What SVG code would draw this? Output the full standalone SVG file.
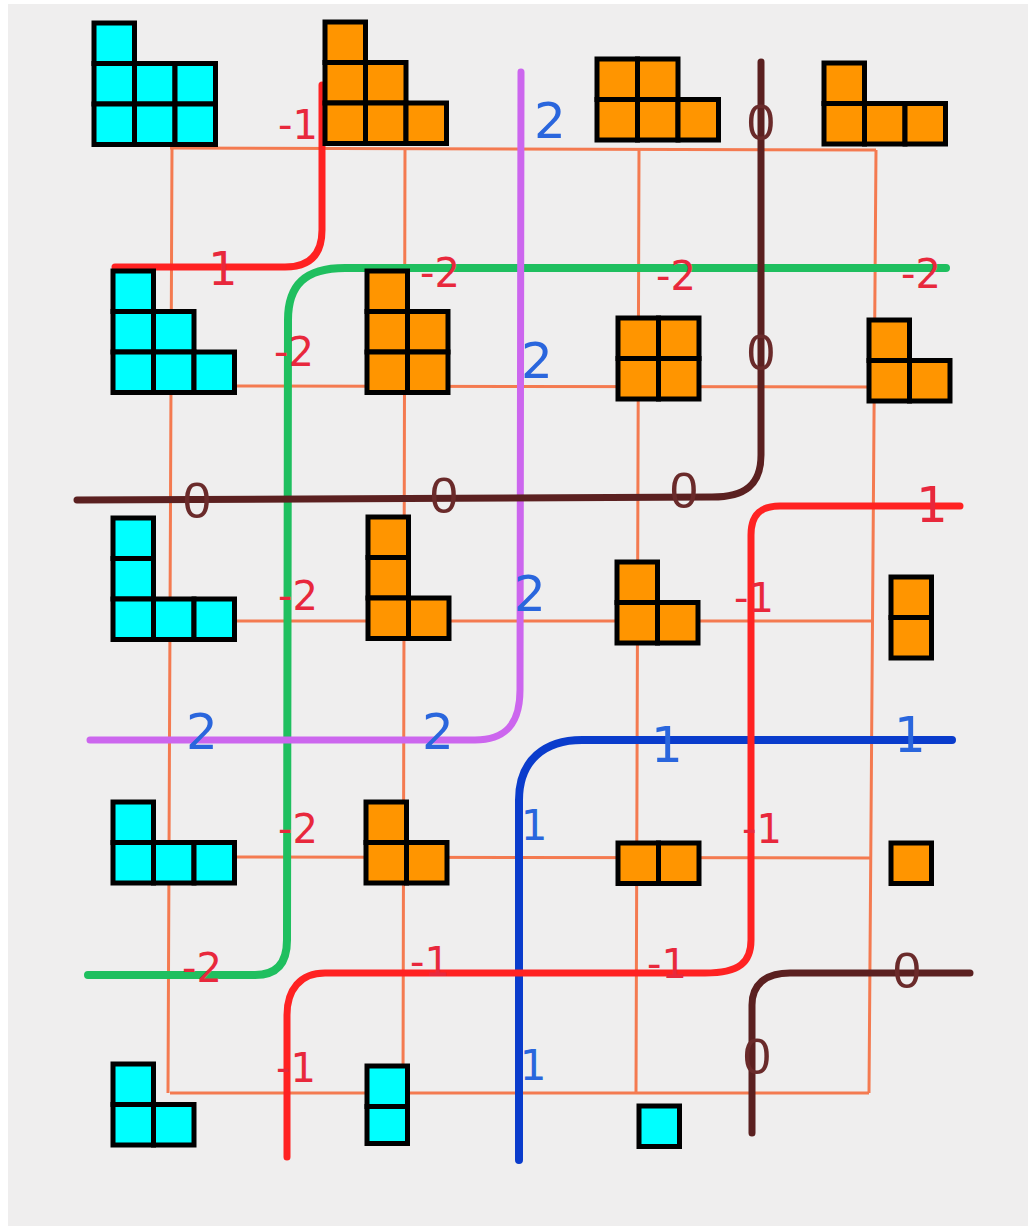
<svg xmlns="http://www.w3.org/2000/svg" width="1033" height="1231" viewBox="0 0 1033 1231">
<defs>
<style>
.c{fill:#00ffff;stroke:#000;stroke-width:5}
.o{fill:#ff9500;stroke:#000;stroke-width:5}
.g{fill:none;stroke:#f47a50;stroke-width:3}
.ln{fill:none;stroke-linecap:round;stroke-linejoin:round}
.r{stroke:#ff2222;stroke-width:7}
.gr{stroke:#1fbf5f;stroke-width:8}
.pu{stroke:#cc66ee;stroke-width:7}
.bl{stroke:#0a3ccc;stroke-width:8}
.br{stroke:#5b2020;stroke-width:7}
.tr{font-family:"DejaVu Sans",sans-serif;fill:#e8283c;font-size:40px;text-anchor:middle}
.tb{font-family:"DejaVu Sans",sans-serif;fill:#2a66dd;font-size:50px;text-anchor:middle}
.t0{font-family:"Liberation Sans",sans-serif;fill:#6a2a2a;font-size:50px;text-anchor:middle}
</style>
</defs>
<rect x="0" y="0" width="1033" height="1231" fill="#ffffff"/>
<rect x="8" y="4" width="1020" height="1222" fill="#efeeee"/>
<g id="grid">
<path class="g" d="M170,148 L876,150 M170,386 L874,387 M170,621 L872,621 M170,857 L870,858 M170,1093 L869,1093"/>
<path class="g" d="M172,148 L168,1093 M405,148 L403,1093 M639,150 L636,1093 M876,150 L869,1093"/>
</g>
<g id="connectors">
<path class="ln r" d="M322,85 L322,230 Q322,267 285,267 L115,267"/>
<path class="ln gr" d="M946,268 L345,268 C305,268 288,285 288,320 L287,940 C287,965 275,975 255,975 L88,975"/>
<path class="ln pu" d="M521,72 L520,690 C520,725 505,740 475,740 L90,740"/>
<path class="ln bl" d="M952,740 L582,740 C545,740 519,760 519,800 L519,1160"/>
<path class="ln r" d="M960,506 L780,506 C760,506 751,515 751,535 L751,940 C751,962 740,973 705,973 L325,973 C300,973 287,990 287,1015 L287,1157"/>
<path class="ln br" d="M761,62 L761,455 C761,485 745,497 712,497 L77,500"/>
<path class="ln br" d="M970,973 L790,973 C765,973 752,985 752,1005 L752,1133"/>
</g>
<g id="shape1" transform="translate(94,23)">
<rect class="c" x="0" y="0" width="40.5" height="40.5"/>
<rect class="c" x="0" y="40.5" width="40.5" height="40.5"/><rect class="c" x="40.5" y="40.5" width="40.5" height="40.5"/><rect class="c" x="81" y="40.5" width="40.5" height="40.5"/>
<rect class="c" x="0" y="81" width="40.5" height="40.5"/><rect class="c" x="40.5" y="81" width="40.5" height="40.5"/><rect class="c" x="81" y="81" width="40.5" height="40.5"/>
</g>
<g id="shape2" transform="translate(325,22)">
<rect class="o" x="0" y="0" width="40.5" height="40.5"/>
<rect class="o" x="0" y="40.5" width="40.5" height="40.5"/><rect class="o" x="40.5" y="40.5" width="40.5" height="40.5"/>
<rect class="o" x="0" y="81" width="40.5" height="40.5"/><rect class="o" x="40.5" y="81" width="40.5" height="40.5"/><rect class="o" x="81" y="81" width="40.5" height="40.5"/>
</g>
<g id="shape3" transform="translate(597,59)">
<rect class="o" x="0" y="0" width="40.5" height="40.5"/><rect class="o" x="40.5" y="0" width="40.5" height="40.5"/>
<rect class="o" x="0" y="40.5" width="40.5" height="40.5"/><rect class="o" x="40.5" y="40.5" width="40.5" height="40.5"/><rect class="o" x="81" y="40.5" width="40.5" height="40.5"/>
</g>
<g id="shape4" transform="translate(824,63)">
<rect class="o" x="0" y="0" width="40.5" height="40.5"/>
<rect class="o" x="0" y="40.5" width="40.5" height="40.5"/><rect class="o" x="40.5" y="40.5" width="40.5" height="40.5"/><rect class="o" x="81" y="40.5" width="40.5" height="40.5"/>
</g>
<g id="shape5" transform="translate(113,271)">
<rect class="c" x="0" y="0" width="40.5" height="40.5"/>
<rect class="c" x="0" y="40.5" width="40.5" height="40.5"/><rect class="c" x="40.5" y="40.5" width="40.5" height="40.5"/>
<rect class="c" x="0" y="81" width="40.5" height="40.5"/><rect class="c" x="40.5" y="81" width="40.5" height="40.5"/><rect class="c" x="81" y="81" width="40.5" height="40.5"/>
</g>
<g id="shape6" transform="translate(367,271)">
<rect class="o" x="0" y="0" width="40.5" height="40.5"/>
<rect class="o" x="0" y="40.5" width="40.5" height="40.5"/><rect class="o" x="40.5" y="40.5" width="40.5" height="40.5"/>
<rect class="o" x="0" y="81" width="40.5" height="40.5"/><rect class="o" x="40.5" y="81" width="40.5" height="40.5"/>
</g>
<g id="shape7" transform="translate(618,318)">
<rect class="o" x="0" y="0" width="40.5" height="40.5"/><rect class="o" x="40.5" y="0" width="40.5" height="40.5"/>
<rect class="o" x="0" y="40.5" width="40.5" height="40.5"/><rect class="o" x="40.5" y="40.5" width="40.5" height="40.5"/>
</g>
<g id="shape8" transform="translate(869,320)">
<rect class="o" x="0" y="0" width="40.5" height="40.5"/>
<rect class="o" x="0" y="40.5" width="40.5" height="40.5"/><rect class="o" x="40.5" y="40.5" width="40.5" height="40.5"/>
</g>
<g id="shape9" transform="translate(113,518)">
<rect class="c" x="0" y="0" width="40.5" height="40.5"/>
<rect class="c" x="0" y="40.5" width="40.5" height="40.5"/>
<rect class="c" x="0" y="81" width="40.5" height="40.5"/><rect class="c" x="40.5" y="81" width="40.5" height="40.5"/><rect class="c" x="81" y="81" width="40.5" height="40.5"/>
</g>
<g id="shape10" transform="translate(368,517)">
<rect class="o" x="0" y="0" width="40.5" height="40.5"/>
<rect class="o" x="0" y="40.5" width="40.5" height="40.5"/>
<rect class="o" x="0" y="81" width="40.5" height="40.5"/><rect class="o" x="40.5" y="81" width="40.5" height="40.5"/>
</g>
<g id="shape11" transform="translate(617,562)">
<rect class="o" x="0" y="0" width="40.5" height="40.5"/>
<rect class="o" x="0" y="40.5" width="40.5" height="40.5"/><rect class="o" x="40.5" y="40.5" width="40.5" height="40.5"/>
</g>
<g id="shape12" transform="translate(891,577)">
<rect class="o" x="0" y="0" width="40.5" height="40.5"/>
<rect class="o" x="0" y="40.5" width="40.5" height="40.5"/>
</g>
<g id="shape13" transform="translate(113,802)">
<rect class="c" x="0" y="0" width="40.5" height="40.5"/>
<rect class="c" x="0" y="40.5" width="40.5" height="40.5"/><rect class="c" x="40.5" y="40.5" width="40.5" height="40.5"/><rect class="c" x="81" y="40.5" width="40.5" height="40.5"/>
</g>
<g id="shape14" transform="translate(366,802)">
<rect class="o" x="0" y="0" width="40.5" height="40.5"/>
<rect class="o" x="0" y="40.5" width="40.5" height="40.5"/><rect class="o" x="40.5" y="40.5" width="40.5" height="40.5"/>
</g>
<g id="shape15" transform="translate(618,843)">
<rect class="o" x="0" y="0" width="40.5" height="40.5"/><rect class="o" x="40.5" y="0" width="40.5" height="40.5"/>
</g>
<g id="shape16" transform="translate(891,843)">
<rect class="o" x="0" y="0" width="40.5" height="40.5"/>
</g>
<g id="shape17" transform="translate(113,1064)">
<rect class="c" x="0" y="0" width="40.5" height="40.5"/>
<rect class="c" x="0" y="40.5" width="40.5" height="40.5"/><rect class="c" x="40.5" y="40.5" width="40.5" height="40.5"/>
</g>
<g id="shape18" transform="translate(367,1066)">
<rect class="c" x="0" y="0" width="40.5" height="40.5"/>
<rect class="c" x="0" y="40.5" width="40.5" height="37"/>
</g>
<g id="shape19" transform="translate(639,1106)">
<rect class="c" x="0" y="0" width="40.5" height="40.5"/>
</g>
<g id="labels-red">
<text class="tr" x="298" y="139">-1</text>
<text class="tr" x="223" y="285" style="font-size:46px">1</text>
<text class="tr" x="440" y="287">-2</text>
<text class="tr" x="676" y="290">-2</text>
<text class="tr" x="921" y="288">-2</text>
<text class="tr" x="294" y="366">-2</text>
<text class="tr" x="298" y="610">-2</text>
<text class="tr" x="298" y="843">-2</text>
<text class="tr" x="202" y="982">-2</text>
<text class="tr" x="932" y="522" style="font-size:50px">1</text>
<text class="tr" x="754" y="612">-1</text>
<text class="tr" x="762" y="843">-1</text>
<text class="tr" x="667" y="978">-1</text>
<text class="tr" x="430" y="976">-1</text>
<text class="tr" x="296" y="1082">-1</text>
</g>
<g id="labels-blue">
<text class="tb" x="550" y="138">2</text>
<text class="tb" x="537" y="378">2</text>
<text class="tb" x="530" y="611">2</text>
<text class="tb" x="202" y="749">2</text>
<text class="tb" x="438" y="749">2</text>
<text class="tb" x="667" y="762">1</text>
<text class="tb" x="910" y="752">1</text>
<text class="tb" x="534" y="840" style="font-size:42px">1</text>
<text class="tb" x="533" y="1080" style="font-size:42px">1</text>
</g>
<g id="labels-zero">
<text class="t0" x="761" y="140">0</text>
<text class="t0" x="761" y="370">0</text>
<text class="t0" x="197" y="518">0</text>
<text class="t0" x="444" y="513">0</text>
<text class="t0" x="684" y="508">0</text>
<text class="t0" x="907" y="988">0</text>
<text class="t0" x="757" y="1074">0</text>
</g>
</svg>
